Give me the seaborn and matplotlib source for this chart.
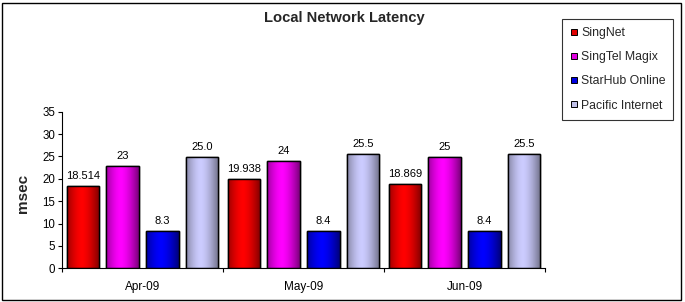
import numpy as np
import pandas as pd
import matplotlib
matplotlib.use("Agg")
import matplotlib.pyplot as plt
import seaborn as sns
from matplotlib.colors import to_rgb
from matplotlib.lines import Line2D
from matplotlib.patches import Rectangle

# ---- data ----
categories = ["Apr-09", "May-09", "Jun-09"]
series = ["SingNet", "SingTel Magix", "StarHub Online", "Pacific Internet"]
singnet = [18.3, 19.9, 18.8]
singtel_magix = [22.8, 23.9, 24.8]
starhub_online = [8.3, 8.3, 8.3]
pacific_internet = [24.8, 25.5, 25.5]
singnet_labels = ["18.514", "19.938", "18.869"]
singtel_magix_labels = ["23", "24", "25"]
starhub_online_labels = ["8.3", "8.4", "8.4"]
pacific_internet_labels = ["25.0", "25.5", "25.5"]
yticks = [0, 5, 10, 15, 20, 25, 30, 35]

values = [singnet, singtel_magix, starhub_online, pacific_internet]
labels = [singnet_labels, singtel_magix_labels, starhub_online_labels, pacific_internet_labels]
rows = []
for s, vals in zip(series, values):
    for c, v in zip(categories, vals):
        rows.append({"Month": c, "Provider": s, "msec": v})
df = pd.DataFrame(rows)

light = ["#FF0000", "#FF00FF", "#0000FF", "#CCCCFF"]
dark = ["#7A0000", "#7A007A", "#00007A", "#6E6E85"]
legend_cols = ["#E00000", "#E000E0", "#0000E0", "#C0C0E8"]

sns.set_theme(style="white")
plt.rcParams["font.family"] = ["Liberation Sans", "DejaVu Sans"]

fig = plt.figure(figsize=(6.85, 3.02), dpi=100)
ax = fig.add_axes([62 / 685, 33.7 / 302, (545 - 62) / 685, (268.3 - 111.7) / 302])

sns.barplot(data=df, x="Month", y="msec", hue="Provider", order=categories,
            hue_order=series, palette=light, saturation=1, width=0.985, gap=0.18,
            edgecolor="black", linewidth=1.0, ax=ax, legend=False)

ax.set_ylim(0, 35)
ax.set_xlim(-0.5, 2.5)

# gradient fill on each bar
t = np.linspace(0, 1, 64)
w = 1 - np.clip(np.abs(t - 0.45) / 0.55, 0, 1) ** 1.6
for i, cont in enumerate(ax.containers):
    lc = np.array(to_rgb(light[i]))
    dc = np.array(to_rgb(dark[i]))
    grad = (dc[None, :] * (1 - w[:, None]) + lc[None, :] * w[:, None])[None, :, :]
    for bar in cont:
        x0, y0 = bar.get_x(), bar.get_y()
        bw, bh = bar.get_width(), bar.get_height()
        im = ax.imshow(grad, extent=[x0, x0 + bw, y0, y0 + bh], aspect="auto",
                       origin="lower", interpolation="bilinear", zorder=bar.get_zorder() + 0.1)
        im.set_clip_path(bar)
        outline = Rectangle((x0, y0), bw, bh, facecolor="none", edgecolor="black",
                            linewidth=1.0, zorder=bar.get_zorder() + 0.2)
        ax.add_patch(outline)
    ax.bar_label(cont, labels=labels[i], padding=4, fontsize=8, color="black")

ax.set_ylim(0, 35)
ax.set_xlim(-0.5, 2.5)
ax.set_aspect("auto")

ax.set_yticks(yticks)
ax.tick_params(axis="y", which="major", left=True, length=3, width=0.8, pad=2,
               labelsize=8.3, colors="black", direction="out")
ax.set_xticks([0, 1, 2])
ax.set_xticklabels(categories)
ax.set_xticks([-0.5, 0.5, 1.5, 2.5], minor=True)
ax.tick_params(axis="x", which="major", bottom=False, length=0, pad=9, labelsize=8.5,
               colors="black")
ax.tick_params(axis="x", which="minor", bottom=True, length=3, width=0.8,
               direction="out", color="black")
for sp in ["top", "right"]:
    ax.spines[sp].set_visible(False)
for sp in ["left", "bottom"]:
    ax.spines[sp].set_color("black")
    ax.spines[sp].set_linewidth(0.8)
ax.set_xlabel("")
ax.set_ylabel("")
ax.grid(False)

fig.text(23 / 685, 1 - 193 / 302, "msec", rotation=90, fontsize=11, fontweight="bold",
         ha="center", va="center")
fig.text(344.5 / 685, 1 - 17.7 / 302, "Local Network Latency", fontsize=10.6, fontweight="bold",
         ha="center", va="center")

handles = [Line2D([0], [0], marker="s", linestyle="none", markersize=5,
                  markerfacecolor=c, markeredgecolor="black", markeredgewidth=0.7)
           for c in legend_cols]
leg = fig.legend(handles, series, loc="upper left",
                 bbox_to_anchor=(562 / 685, 1 - 19 / 302), frameon=True, fancybox=False,
                 fontsize=8.8, handlelength=0.7, handletextpad=0.2, labelspacing=1.0,
                 borderpad=0.65, borderaxespad=0)
leg.get_frame().set_edgecolor("black")
leg.get_frame().set_linewidth(0.8)

# outer figure border
fig.patches.append(Rectangle((2 / 685, 2 / 302), 679 / 685, 297 / 302, transform=fig.transFigure,
                             fill=False, edgecolor="black", linewidth=1.0))

fig.savefig("out.png", dpi=100)
